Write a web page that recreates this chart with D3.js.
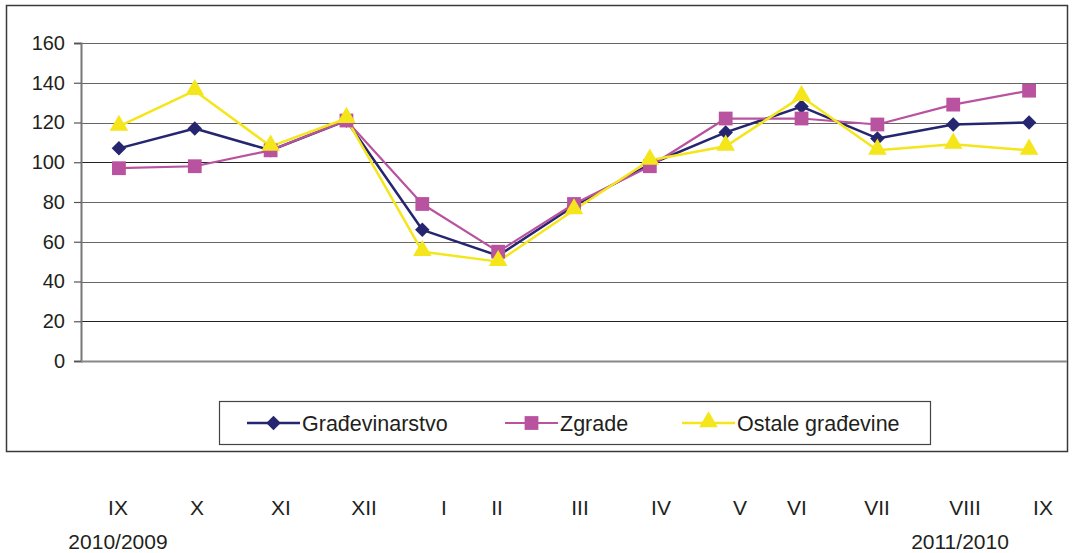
<!DOCTYPE html>
<meta charset="utf-8">
<script src="https://d3js.org/d3.v7.min.js"></script>
<style>
    body { margin: 0; background: #fff; }
    text { font-family: "Liberation Sans", Arial, sans-serif; fill: #231f20; }
</style>
<div id="my_dataviz"></div>
<script>

    // data
    const months = ["IX", "X", "XI", "XII", "I", "II", "III", "IV", "V", "VI", "VII", "VIII", "IX "];
    const gradevinarstvo = [107, 117, 106, 121, 66, 53, 78, 99, 115, 128, 112, 119, 120];
    const zgrade = [97, 98, 106, 121, 79, 55, 79, 98, 122, 122, 119, 129, 136];
    const ostale = [118, 136, 108, 122, 55, 50, 76, 101, 108, 133, 106, 109, 106];
    const seriesNames = ["Građevinarstvo", "Zgrade", "Ostale građevine"];
    const yTicks = [0, 20, 40, 60, 80, 100, 120, 140, 160];
    const yearLabels = ["2010/2009", "2011/2010"];

    // the month row under the frame is typed text, not aligned to the points
    const monthLabelX = [118, 197, 281, 364, 444, 497, 580, 661, 740, 797, 877, 965, 1043];
    const yearLabelX = [118, 960];

    const W = 1075, H = 553;
    const plot = {left: 81, right: 1067, top: 43, bottom: 361};

    const svg = d3.select("#my_dataviz")
        .append("svg")
        .attr("width", W)
        .attr("height", H);

    const x = d3.scalePoint()
        .domain(months)
        .range([plot.left, plot.right])
        .padding(0.5);

    const y = d3.scaleLinear()
        .domain([0, 160])
        .range([plot.bottom, plot.top]);

    // outer frame
    svg.append("rect")
        .attr("x", 6.5).attr("y", 5.5)
        .attr("width", 1061).attr("height", 446)
        .attr("fill", "none")
        .attr("stroke", "#3a3a3a")
        .attr("stroke-width", 1.5);

    // grid lines
    svg.append("g")
        .selectAll("line")
        .data(yTicks.filter(d => d > 0))
        .join("line")
        .attr("x1", plot.left).attr("x2", plot.right)
        .attr("y1", d => Math.round(y(d)) + 0.5)
        .attr("y2", d => Math.round(y(d)) + 0.5)
        .attr("stroke", d => (d === 100 || d === 20) ? "#222" : "#666")
        .attr("stroke-width", 1.2);

    // y axis
    const yAxis = svg.append("g")
        .attr("transform", `translate(${plot.left},0)`)
        .call(d3.axisLeft(y).tickValues(yTicks).tickSize(7).tickPadding(9));
    yAxis.select(".domain").attr("stroke", "#777").attr("stroke-width", 2);
    yAxis.selectAll(".tick line").attr("stroke", "#555").attr("stroke-width", 1.2);
    yAxis.selectAll(".tick text")
        .attr("font-size", 20)
        .attr("font-family", "Liberation Sans, Arial, sans-serif")
        .attr("fill", "#231f20");

    // x axis base line
    svg.append("line")
        .attr("x1", plot.left).attr("x2", plot.right)
        .attr("y1", plot.bottom + 0.5).attr("y2", plot.bottom + 0.5)
        .attr("stroke", "#888").attr("stroke-width", 2);

    // diamond drawn as a square turned 45 degrees, so it is as wide as it is tall
    const series = [
        {name: seriesNames[0], values: gradevinarstvo, color: "#25266f", symbol: d3.symbolSquare, size: 105, rot: 45, dy: 0, width: 2.5},
        {name: seriesNames[1], values: zgrade, color: "#b9529f", symbol: d3.symbolSquare, size: 190, rot: 0, dy: 0, width: 2.2},
        {name: seriesNames[2], values: ostale, color: "#f4e61b", symbol: d3.symbolTriangle, size: 150, rot: 0, dy: -1, width: 2.5}
    ];

    const line = d3.line()
        .x((d, i) => x(months[i]))
        .y(d => y(d));

    series.forEach(function(s) {
        svg.append("path")
            .datum(s.values)
            .attr("d", line)
            .attr("fill", "none")
            .attr("stroke", s.color)
            .attr("stroke-width", s.width)
            .attr("stroke-linejoin", "round");
    });

    series.forEach(function(s) {
        const sym = d3.symbol().type(s.symbol).size(s.size);
        svg.append("g")
            .selectAll("path")
            .data(s.values)
            .join("path")
            .attr("d", sym)
            .attr("transform", (d, i) => `translate(${x(months[i])},${y(d) + s.dy}) rotate(${s.rot})`)
            .attr("fill", s.color);
    });

    // legend
    const legend = svg.append("g");
    legend.append("rect")
        .attr("x", 219.5).attr("y", 401.5)
        .attr("width", 711).attr("height", 43)
        .attr("fill", "#fff")
        .attr("stroke", "#444")
        .attr("stroke-width", 1.2);

    const legendX = [247, 505, 682];
    series.forEach(function(s, i) {
        const g = legend.append("g").attr("transform", `translate(${legendX[i]},423)`);
        g.append("line")
            .attr("x1", 0).attr("x2", 53)
            .attr("stroke", s.color).attr("stroke-width", s.width);
        g.append("path")
            .attr("d", d3.symbol().type(s.symbol).size(s.size))
            .attr("transform", `translate(26.5,${s.dy}) rotate(${s.rot})`)
            .attr("fill", s.color);
        g.append("text")
            .attr("x", 55)
            .attr("y", 8)
            .attr("font-size", 21.5)
            .text(s.name);
    });

    // month row and years below the frame
    svg.append("g")
        .selectAll("text")
        .data(months)
        .join("text")
        .attr("x", (d, i) => monthLabelX[i])
        .attr("y", 515)
        .attr("text-anchor", "middle")
        .attr("font-size", 21)
        .text(d => d.trim());

    svg.append("g")
        .selectAll("text")
        .data(yearLabels)
        .join("text")
        .attr("x", (d, i) => yearLabelX[i])
        .attr("y", 549)
        .attr("text-anchor", "middle")
        .attr("font-size", 21)
        .text(d => d);

</script>
